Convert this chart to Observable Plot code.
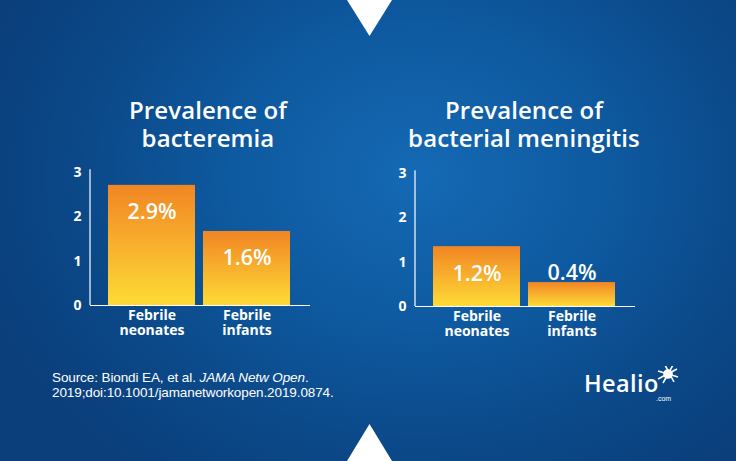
<!DOCTYPE html>
<html>
<head>
<meta charset="utf-8">
<script src="https://cdn.jsdelivr.net/npm/d3@7"></script>
<script src="https://cdn.jsdelivr.net/npm/@observablehq/plot@0.6"></script>
<style>
  html, body { margin: 0; padding: 0; }
  #stage {
    position: relative; width: 736px; height: 461px; overflow: hidden;
    background: radial-gradient(ellipse 62% 80% at 57% 38%, #1569b4 0%, #0e5aa0 40%, #0b4888 75%, #0a3f7b 100%);
    font-family: "Open Sans", sans-serif; color: #fff;
  }
  .title {
    position: absolute; width: 320px; text-align: center;
    font-size: 24px; font-weight: 600; line-height: 28px; letter-spacing: 0.1px;
  }
  .panel { position: absolute; }
  #source {
    position: absolute; left: 52px; top: 371px;
    font-family: "Liberation Sans", Arial, sans-serif; font-size: 13.5px; line-height: 14.5px;
    letter-spacing: -0.1px;
  }
  #logo { position: absolute; left: 584px; top: 366px; }
  .tri { position: absolute; left: 0; top: 0; }
</style>
</head>
<body>
<div id="stage">
  <svg class="tri" width="736" height="461">
    <polygon points="347,0 392,0 369.5,36" fill="#fff"/>
    <polygon points="347,461 392,461 369.5,424" fill="#fff"/>
  </svg>
  <div class="title" style="left:48px; top:96px;">Prevalence of<br>bacteremia</div>
  <div class="title" style="left:364px; top:96px;">Prevalence of<br>bacterial meningitis</div>
  <div class="panel" id="left" style="left:60px; top:160px;"></div>
  <div class="panel" id="right" style="left:385px; top:161px;"></div>
  <div id="source">Source: Biondi EA, et al. <i>JAMA Netw Open</i>.<br>2019;doi:10.1001/jamanetworkopen.2019.0874.</div>
  <div id="logo">
    <svg width="110" height="40">
      <text x="0" y="26" fill="#fff" font-family="Open Sans, sans-serif" font-size="23.5" font-weight="600" letter-spacing="0.4">Healio</text>
      <text x="72" y="35" fill="#fff" font-family="Liberation Sans, Arial, sans-serif" font-size="7">.com</text>
      <g stroke="#fff" stroke-width="1.6" fill="none" transform="translate(84,8)">
        <line x1="-10" y1="-3" x2="10" y2="3"/>
        <line x1="-5" y1="9" x2="5" y2="-9"/>
        <line x1="-3" y1="-9" x2="6" y2="8"/>
        <line x1="-10" y1="5" x2="9" y2="-5"/>
        <circle cx="0" cy="0" r="4" fill="#fff"/>
      </g>
    </svg>
  </div>
</div>
<script>
// Data
const categories = ["Febrile neonates", "Febrile infants"];
const bacteremiaLabels = ["2.9%", "1.6%"];
const bacteremiaHeights = [2.71, 1.67];      // bar heights as drawn on the 0–3 axis
const meningitisLabels = ["1.2%", "0.4%"];
const meningitisHeights = [1.35, 0.54];
const yTicks = [0, 1, 2, 3];

function panel(heights, labels, gid) {
  const data = categories.map((c, i) => ({cat: c, h: heights[i], label: labels[i]}));
  const defs = () => {
    const d = d3.create("svg:defs");
    const g = d.append("linearGradient").attr("id", gid).attr("x1", 0).attr("y1", 0).attr("x2", 0).attr("y2", 1);
    g.append("stop").attr("offset", "0%").attr("stop-color", "#f18524");
    g.append("stop").attr("offset", "100%").attr("stop-color", "#fedb36");
    return d.node();
  };
  const yAxisLine = (index, scales) => {
    return d3.create("svg:line")
      .attr("x1", 30).attr("x2", 30)
      .attr("y1", scales.y(3.06)).attr("y2", scales.y(0))
      .attr("stroke", "#fff").attr("stroke-width", 1.2).node();
  };
  const catStyle = {tickSize: 0, fontSize: 14, fontWeight: 700, fill: "#fff", label: null};
  return Plot.plot({
    width: 260,
    height: 180,
    marginLeft: 30,
    marginRight: 10,
    marginTop: 12,
    marginBottom: 35,
    style: {background: "transparent", color: "#fff", fontFamily: "Open Sans, sans-serif", overflow: "visible"},
    x: {type: "band", domain: categories, range: [48, 231], paddingInner: 0.08, paddingOuter: 0},
    y: {domain: [0, 3]},
    marks: [
      defs,
      Plot.barY(data, {x: "cat", y: "h", fill: `url(#${gid})`}),
      Plot.ruleY([0], {stroke: "#fff", strokeWidth: 1.2}),
      yAxisLine,
      Plot.axisY({ticks: yTicks, tickFormat: "d", tickSize: 0, tickPadding: 9, fontSize: 14, fontWeight: 700, fill: "#fff", label: null}),
      Plot.axisX({...catStyle, tickPadding: 5, tickFormat: d => d.split(" ")[0]}),
      Plot.axisX({...catStyle, tickPadding: 20, tickFormat: d => d.split(" ")[1]}),
      Plot.text(data.filter(d => d.h >= 1), {x: "cat", y: "h", text: "label", dy: 27, fill: "#fff",
        fontSize: 21.5, fontWeight: 600}),
      Plot.text(data.filter(d => d.h < 1), {x: "cat", y: "h", text: "label", dy: -9, fill: "#fff",
        fontSize: 21.5, fontWeight: 600})
    ]
  });
}

document.getElementById("left").appendChild(panel(bacteremiaHeights, bacteremiaLabels, "gradL"));
document.getElementById("right").appendChild(panel(meningitisHeights, meningitisLabels, "gradR"));
</script>
</body>
</html>
